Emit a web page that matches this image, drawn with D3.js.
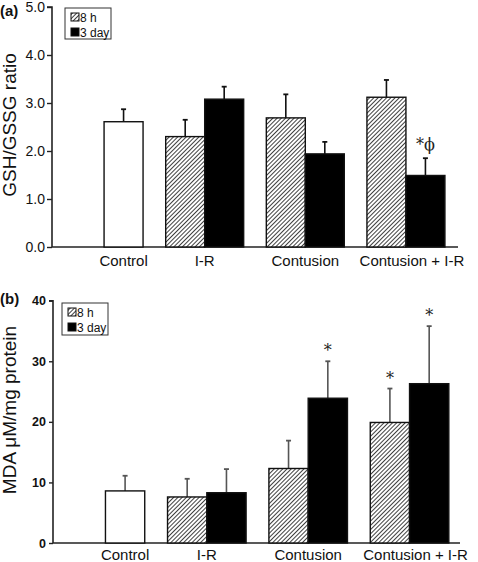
<!DOCTYPE html>
<html><head><meta charset="utf-8">
<script src="https://cdn.jsdelivr.net/npm/d3@7"></script>
<style>body{margin:0;background:#fff}svg{display:block}</style>
</head><body>
<script>
const groups = ["Control", "I-R", "Contusion", "Contusion + I-R"];
const seriesNames = ["8 h", "3 day"];
// panel (a) GSH/GSSG ratio
const gshControl = {mean: 2.61, err: 0.26};
const gsh8h = [null, 2.30, 2.69, 3.12];
const gsh8hErr = [null, 0.35, 0.49, 0.36];
const gsh3d = [null, 3.08, 1.94, 1.49];
const gsh3dErr = [null, 0.26, 0.25, 0.36];
const gshTicks = [0, 1, 2, 3, 4, 5];
const gshAnnot = [null, null, null, "*\u03D5"]; // on 3 day bars
// panel (b) MDA
const mdaControl = {mean: 8.6, err: 2.5};
const mda8h = [null, 7.6, 12.3, 19.9];
const mda8hErr = [null, 3.0, 4.6, 5.6];
const mda3d = [null, 8.3, 23.9, 26.3];
const mda3dErr = [null, 3.9, 6.1, 9.5];
const mdaTicks = [0, 10, 20, 30, 40];
const mda8hAnnot = [null, null, null, "*"];
const mda3dAnnot = [null, null, "*", "*"];

const W = 478, H = 562;
const svg = d3.select("body").append("svg").attr("width", W).attr("height", H);
const defs = svg.append("defs");
const pat = defs.append("pattern").attr("id", "hatch").attr("patternUnits", "userSpaceOnUse")
  .attr("width", 3).attr("height", 3).attr("patternTransform", "rotate(45)");
pat.append("rect").attr("width", 3).attr("height", 3).attr("fill", "#fff");
pat.append("line").attr("x1", 0).attr("y1", 0).attr("x2", 0).attr("y2", 3)
  .attr("stroke", "#2a2a2a").attr("stroke-width", 1.8);

const SANS = "Liberation Sans, Arial, sans-serif";

function panel(opt) {
  const g = svg.append("g");
  const x = d3.scaleBand().domain(groups).range([opt.x0, opt.x1]).paddingInner(0.225).paddingOuter(0.13);
  const sub = d3.scaleBand().domain(seriesNames).range([0, x.bandwidth()]);
  const y = d3.scaleLinear().domain([0, opt.max]).range([opt.yb, opt.yt]);
  // axes
  const ya = d3.axisLeft(y).tickValues(opt.ticks).tickFormat(opt.fmt).tickSize(opt.tick).tickPadding(opt.tpad);
  const yg = g.append("g").attr("transform", `translate(${opt.x0},0)`).call(ya);
  yg.select(".domain").attr("stroke", "#222").attr("stroke-width", 1.6).attr("d", `M${-opt.tick},${opt.yt}H0V${opt.yb}`);
  yg.selectAll(".tick line").attr("stroke", "#222").attr("stroke-width", 1.4);
  yg.selectAll(".tick text").attr("font-family", opt.tickFont).attr("font-size", opt.tickSize)
    .attr("font-weight", opt.tickWeight).attr("fill", "#111");
  g.append("line").attr("x1", opt.x0).attr("x2", opt.xEnd).attr("y1", opt.yb).attr("y2", opt.yb)
    .attr("stroke", "#222").attr("stroke-width", 1.6);
  // control bar (placed in right slot)
  const cx = x(groups[0]) + sub("3 day");
  const bw = sub.bandwidth();
  const errCol = opt.errCol;
  function errbar(xc, v, e) {
    g.append("line").attr("x1", xc).attr("x2", xc).attr("y1", y(v)).attr("y2", y(v + e))
      .attr("stroke", errCol).attr("stroke-width", 1.6);
    g.append("line").attr("x1", xc - 2.5).attr("x2", xc + 2.5).attr("y1", y(v + e)).attr("y2", y(v + e))
      .attr("stroke", errCol).attr("stroke-width", 1.8);
  }
  errbar(cx + bw / 2, opt.control.mean, opt.control.err);
  g.append("rect").attr("x", cx).attr("y", y(opt.control.mean)).attr("width", bw)
    .attr("height", y(0) - y(opt.control.mean)).attr("fill", "#fff").attr("stroke", "#111").attr("stroke-width", 1.4);
  const series = [
    {name: "8 h", vals: opt.v8, errs: opt.e8, fill: "url(#hatch)", ann: opt.a8},
    {name: "3 day", vals: opt.v3, errs: opt.e3, fill: "#000", ann: opt.a3}
  ];
  series.forEach(s => {
    groups.forEach((grp, i) => {
      const v = s.vals[i];
      if (v == null) return;
      const bx = x(grp) + sub(s.name);
      errbar(bx + bw / 2, v, s.errs[i]);
      g.append("rect").attr("x", bx).attr("y", y(v)).attr("width", bw).attr("height", y(0) - y(v))
        .attr("fill", s.fill).attr("stroke", "#111").attr("stroke-width", 1.4);
      if (s.ann && s.ann[i]) {
        g.append("text").attr("x", bx + bw / 2).attr("y", y(v + s.errs[i]) - opt.annGap)
          .attr("text-anchor", "middle").attr("font-family", "DejaVu Serif, serif").attr("font-size", 16)
          .attr("fill", "#222").text(s.ann[i]);
      }
    });
  });
  // category labels
  groups.forEach((grp, i) => {
    const lx = i === 0 ? cx + bw / 2 : x(grp) + x.bandwidth() / 2 + (i === 3 ? 6 : 0);
    g.append("text").attr("x", lx).attr("y", opt.yb + opt.labOff).attr("text-anchor", "middle")
      .attr("font-family", SANS).attr("font-size", 15).attr("fill", "#111").text(grp);
  });
  // y title
  g.append("text").attr("transform", `translate(${opt.titleX},${opt.titleY}) rotate(-90)`)
    .attr("text-anchor", "middle").attr("font-family", SANS)
    .attr("font-size", 19).attr("fill", "#111").text(opt.title);
  // panel label
  g.append("text").attr("x", 0).attr("y", opt.labY).attr("font-family", SANS)
    .attr("font-weight", "bold").attr("font-size", 15).attr("fill", "#111").text(opt.label);
  // legend
  const L = opt.leg;
  g.append("rect").attr("x", L.x).attr("y", L.y).attr("width", L.w).attr("height", L.h)
    .attr("fill", "#fff").attr("stroke", "#333").attr("stroke-width", 1);
  seriesNames.forEach((nm, i) => {
    const yy = L.y + 5 + i * 15;
    g.append("rect").attr("x", L.x + 6).attr("y", yy).attr("width", 8).attr("height", 8)
      .attr("fill", i === 0 ? "url(#hatch)" : "#000").attr("stroke", "#111").attr("stroke-width", 1);
    g.append("text").attr("x", L.x + 15).attr("y", yy + 8.5).attr("font-family", SANS)
      .attr("font-size", 12).attr("fill", "#111").text(nm);
  });
}

panel({
  x0: 52, x1: 458, xEnd: 458, yb: 247, yt: 7, max: 5, ticks: gshTicks, fmt: d3.format(".1f"),
  tick: 5, tpad: 2, tickFont: SANS, tickSize: 14, tickWeight: "normal",
  control: gshControl, v8: gsh8h, e8: gsh8hErr, v3: gsh3d, e3: gsh3dErr, a8: null, a3: gshAnnot,
  annGap: 8, errCol: "#111", labOff: 19,
  title: "GSH/GSSG ratio", titleX: 16, titleY: 125, label: "(a)", labY: 16,
  leg: {x: 65, y: 8, w: 46, h: 31}
});
panel({
  x0: 53, x1: 462, xEnd: 460, yb: 543, yt: 300.7, max: 40, ticks: mdaTicks, fmt: d3.format("d"),
  tick: 4, tpad: 3, tickFont: "Liberation Sans Narrow, Arial Narrow, sans-serif", tickSize: 12.5, tickWeight: "bold",
  control: mdaControl, v8: mda8h, e8: mda8hErr, v3: mda3d, e3: mda3dErr, a8: mda8hAnnot, a3: mda3dAnnot,
  annGap: 5, errCol: "#555", labOff: 17,
  title: "MDA \u03BCM/mg protein", titleX: 16, titleY: 410, label: "(b)", labY: 304,
  leg: {x: 62, y: 303, w: 46, h: 32}
});
</script>
</body></html>
